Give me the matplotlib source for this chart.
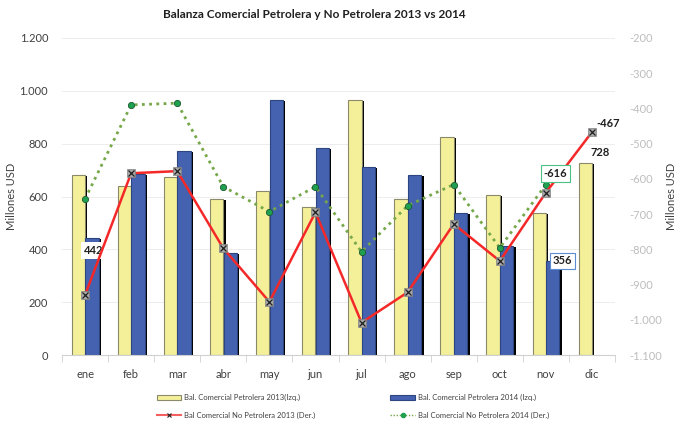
import numpy as np
import matplotlib.pyplot as plt
from matplotlib.ticker import FuncFormatter
from matplotlib.lines import Line2D

meses = ['ene', 'feb', 'mar', 'abr', 'may', 'jun', 'jul', 'ago', 'sep', 'oct', 'nov', 'dic']

# Balanza petrolera (eje izq.)
petro2013 = [682, 640, 672, 590, 622, 559, 964, 590, 825, 606, 537, 728]
petro2014 = [442, 684, 771, 385, 965, 783, 713, 682, 537, 413, 356]

# Balanza no petrolera (eje der.)
nopetro2013 = [-930, -584, -578, -797, -949, -695, -1008, -922, -728, -833, -639, -467]
nopetro2014 = [-657, -390, -385, -622, -693, -622, -807, -676, -616, -796, -616]

plt.rcParams['font.family'] = ['Lato', 'DejaVu Sans']

yellow = '#F4F09A'
blue = '#4462B0'
red = '#F42828'
green_line = '#76A84A'
green_pt = '#1FA050'

def miles(v, pos):
    return f'{int(v):,}'.replace(',', '.')

fig = plt.figure(figsize=(6.94, 4.28), dpi=100)
ax = fig.add_axes([62/694, 1-355/428, 553/694, 317/428])
ax2 = ax.twinx()

x = np.arange(len(meses))
w = 0.29
x13 = x - 0.145
x14 = np.arange(len(petro2014)) + 0.15

# sombra de las barras
ax.bar(x13 + 0.05, np.array(petro2013) - 4, w, color='black', zorder=1)
ax.bar(x14 + 0.05, np.array(petro2014) - 4, w, color='black', zorder=1)
b13 = ax.bar(x13, petro2013, w, color=yellow, edgecolor='#8A8A6A', linewidth=0.8, zorder=2)
b14 = ax.bar(x14, petro2014, w, color=blue, edgecolor='#2E4680', linewidth=0.8, zorder=2)

ax.set_ylim(0, 1200)
ax.set_yticks(range(0, 1201, 200))
ax.yaxis.set_major_formatter(FuncFormatter(miles))
ax.grid(axis='y', color='#EDEDED', linewidth=0.7, zorder=0)
ax.set_axisbelow(True)
ax.set_xlim(-0.5, 11.5)
ax.set_xticks(x)
ax.set_xticklabels(meses)
ax.set_xticks(np.arange(-0.5, 12, 1), minor=True)
ax.tick_params(axis='x', which='major', length=0, pad=10, labelsize=8, labelcolor='#404040')
ax.tick_params(axis='x', which='minor', length=5, color='#D0D0D0')
ax.tick_params(axis='y', length=0, labelsize=8, labelcolor='#404040', pad=10)
ax.set_ylabel('Millones USD', fontsize=8, color='#404040', labelpad=2)
for s in ['top', 'right', 'left']:
    ax.spines[s].set_visible(False)
ax.spines['bottom'].set_color('#D0D0D0')

ax2.plot(x, nopetro2013, color=red, linewidth=1.8, marker='s', markersize=6,
         markerfacecolor='#A8A8A8', markeredgecolor='#808080', markeredgewidth=0.5, zorder=5)
ax2.plot(x, nopetro2013, linestyle='none', marker='x', markersize=5,
         markeredgecolor='#202020', markeredgewidth=0.9, zorder=6)
ax2.plot(np.arange(len(nopetro2014)), nopetro2014, color=green_line, linewidth=2,
         linestyle=(0, (1, 1.6)), marker='o', markersize=4.5,
         markerfacecolor=green_pt, markeredgecolor='#1A5A30', markeredgewidth=0.6, zorder=4)
ax2.set_ylim(-1100, -200)
ax2.set_yticks(range(-1100, -199, 100))
ax2.yaxis.set_major_formatter(FuncFormatter(miles))
ax2.tick_params(axis='y', length=0, labelsize=8, labelcolor='#BDBDBD', pad=10)
ax2.set_ylabel('Millones USD', fontsize=8, color='#404040', rotation=90, labelpad=3)
for s in ['top', 'right', 'left', 'bottom']:
    ax2.spines[s].set_visible(False)

# etiquetas de datos
ax.annotate('442', xy=(x14[0], petro2014[0]), xytext=(1, -9), textcoords='offset points',
            ha='center', va='center', fontsize=8, fontweight='bold', color='#202020', zorder=10,
            bbox=dict(boxstyle='square,pad=0.25', facecolor='white', edgecolor='none'))
ax.annotate('356', xy=(x14[10], petro2014[10]), xytext=(7, 0), textcoords='offset points',
            ha='center', va='center', fontsize=8, fontweight='bold', color='#202020', zorder=10,
            bbox=dict(boxstyle='square,pad=0.25', facecolor='white', edgecolor='#5B8BD0', linewidth=0.8))
ax.annotate('728', xy=(x13[11], petro2013[11]), xytext=(11, 7), textcoords='offset points',
            ha='center', va='center', fontsize=8, fontweight='bold', color='#202020')
ax2.annotate('-616', xy=(10, nopetro2014[10]), xytext=(7, 8), textcoords='offset points',
             ha='center', va='center', fontsize=8, fontweight='bold', color='#202020', zorder=10,
             bbox=dict(boxstyle='square,pad=0.25', facecolor='white', edgecolor='#4CC080', linewidth=0.8))
ax2.annotate('-467', xy=(11, nopetro2013[11]), xytext=(12, 6), textcoords='offset points',
             ha='center', va='center', fontsize=8, fontweight='bold', color='#202020')

fig.text(314/694, 1-14/428, 'Balanza Comercial Petrolera y No Petrolera 2013 vs 2014',
         ha='center', va='center', fontsize=8.5, fontweight='bold', color='#202020')

h13 = Line2D([], [], color='#F46060', linewidth=1.5, marker='x', markersize=3,
             markeredgecolor='#202020', markeredgewidth=0.8)
h14 = Line2D([], [], color=green_line, linewidth=1, linestyle=(0, (1, 1.2)), marker='o',
             markersize=3, markerfacecolor=green_pt, markeredgecolor=green_pt)
leg = fig.legend([b13, h13, b14, h14],
                 ['Bal. Comercial Petrolera 2013(Izq.)', 'Bal Comercial No Petrolera 2013 (Der.)',
                  'Bal. Comercial Petrolera 2014 (Izq.)', 'Bal Comercial No Petrolera 2014 (Der.)'],
                 ncol=2, loc='upper left', bbox_to_anchor=(150/694, 1-387/428), frameon=False,
                 fontsize=5.5, handlelength=3.2, columnspacing=9.8, labelspacing=1.4,
                 handletextpad=0.4, labelcolor='#404040')

fig.savefig('out.png', dpi=100)
